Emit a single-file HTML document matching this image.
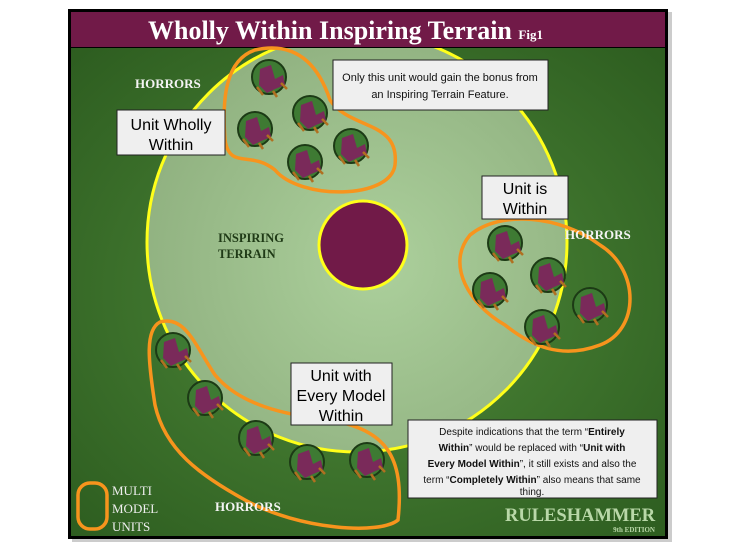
<!DOCTYPE html>
<html><head><style>
body{margin:0;background:#fff;width:749px;height:559px;overflow:hidden}
svg{display:block}
text{font-family:"Liberation Serif",serif}
.s{font-family:"Liberation Sans",sans-serif}
</style></head><body>
<svg width="749" height="559" viewBox="0 0 749 559">
<defs>
<radialGradient id="g" cx="0.5" cy="0.5" r="0.75">
<stop offset="0" stop-color="#4f8a3a"/><stop offset="1" stop-color="#2b5a1e"/>
</radialGradient>
<radialGradient id="lg" cx="0.55" cy="0.55" r="0.6">
<stop offset="0" stop-color="#acd09c"/><stop offset="1" stop-color="#8fb07f"/>
</radialGradient>
<clipPath id="c"><rect x="71" y="48" width="594" height="488"/></clipPath>
<g id="m">
<circle r="17" fill="#3e7a33" stroke="#1c3a15" stroke-width="2"/>
<path d="M-9,-8 L2,-12 L6,2 L14,-2 L16,8 L6,12 L-2,16 L-10,8 Z" fill="#7a2a5a"/>
<path d="M-12,10 L-6,18 M4,14 L8,20 M12,6 L18,12" stroke="#b07020" stroke-width="2.5"/>
</g>
</defs>
<rect x="72" y="12" width="600" height="530" fill="#999" opacity="0.5"/>
<rect x="68" y="9" width="600" height="530" fill="#000"/>
<rect x="71" y="12" width="594" height="35" fill="#711a48"/>
<text x="148" y="39" font-size="26" font-weight="bold" fill="#fff">Wholly Within Inspiring Terrain <tspan font-size="13">Fig1</tspan></text>
<rect x="71" y="48" width="594" height="488" fill="url(#g)"/>
<g clip-path="url(#c)">
<circle cx="357" cy="242" r="210" fill="url(#lg)" stroke="#ffff1a" stroke-width="3"/>
</g>
<circle cx="363" cy="245" r="44" fill="#711a48" stroke="#ffff1a" stroke-width="3"/>
<text x="218" y="242" font-size="12.5" font-weight="bold" fill="#1f3a16">INSPIRING</text>
<text x="218" y="258" font-size="12.5" font-weight="bold" fill="#1f3a16">TERRAIN</text>
<path d="M255,50 C300,40 320,70 330,100 C350,130 400,120 395,165 C390,200 300,200 275,170 C250,150 230,170 225,140 C222,100 225,60 255,50 Z" fill="none" stroke="#f7941d" stroke-width="3.5"/>
<path d="M470,235 C500,210 560,215 600,245 C640,270 640,330 600,345 C560,360 530,345 505,325 C470,305 445,265 470,235 Z" fill="none" stroke="#f7941d" stroke-width="3.5"/>
<path d="M160,322 C185,315 195,345 215,375 C240,405 285,415 330,420 C385,430 405,455 398,520 C380,535 300,530 245,500 C200,475 165,450 155,405 C148,360 145,330 160,322 Z" fill="none" stroke="#f7941d" stroke-width="3.5"/>
<use href="#m" x="269" y="77"/><use href="#m" x="255" y="129"/><use href="#m" x="310" y="113"/><use href="#m" x="351" y="146"/><use href="#m" x="305" y="162"/>
<use href="#m" x="505" y="243"/><use href="#m" x="490" y="290"/><use href="#m" x="548" y="275"/><use href="#m" x="590" y="305"/><use href="#m" x="542" y="327"/>
<use href="#m" x="173" y="350"/><use href="#m" x="205" y="398"/><use href="#m" x="256" y="438"/><use href="#m" x="307" y="462"/><use href="#m" x="367" y="460"/>
<rect x="333" y="60" width="215" height="50" fill="#efefef" stroke="#222"/>
<text class="s" x="440" y="81" text-anchor="middle" font-size="11" fill="#111">Only this unit would gain the bonus from</text>
<text class="s" x="440" y="98" text-anchor="middle" font-size="11" fill="#111">an Inspiring Terrain Feature.</text>
<rect x="117" y="110" width="108" height="45" fill="#efefef" stroke="#222"/>
<text class="s" x="171" y="130" text-anchor="middle" font-size="16" fill="#000">Unit Wholly</text>
<text class="s" x="171" y="150" text-anchor="middle" font-size="16" fill="#000">Within</text>
<rect x="482" y="176" width="86" height="43" fill="#efefef" stroke="#222"/>
<text class="s" x="525" y="194" text-anchor="middle" font-size="16" fill="#000">Unit is</text>
<text class="s" x="525" y="214" text-anchor="middle" font-size="16" fill="#000">Within</text>
<rect x="291" y="363" width="101" height="62" fill="#efefef" stroke="#222"/>
<text class="s" x="341" y="381" text-anchor="middle" font-size="16" fill="#000">Unit with</text>
<text class="s" x="341" y="401" text-anchor="middle" font-size="16" fill="#000">Every Model</text>
<text class="s" x="341" y="421" text-anchor="middle" font-size="16" fill="#000">Within</text>
<rect x="408" y="420" width="249" height="78" fill="#efefef" stroke="#222"/>
<g font-size="10" fill="#111" text-anchor="middle">
<text class="s" x="532" y="435">Despite indications that the term “<tspan font-weight="bold">Entirely</tspan></text>
<text class="s" x="532" y="451"><tspan font-weight="bold">Within</tspan>” would be replaced with “<tspan font-weight="bold">Unit with</tspan></text>
<text class="s" x="532" y="467"><tspan font-weight="bold">Every Model Within</tspan>”, it still exists and also the</text>
<text class="s" x="532" y="483">term “<tspan font-weight="bold">Completely Within</tspan>” also means that same</text>
<text class="s" x="532" y="495">thing.</text>
</g>
<g font-size="13" font-weight="bold" fill="#f4f4f4">
<text x="135" y="88">HORRORS</text>
<text x="565" y="239">HORRORS</text>
<text x="215" y="511">HORRORS</text>
</g>
<rect x="78" y="483" width="29" height="46" rx="12" fill="none" stroke="#f7941d" stroke-width="3.5"/>
<g font-size="13" fill="#eee"><text x="112" y="495">MULTI</text><text x="112" y="513">MODEL</text><text x="112" y="531">UNITS</text></g>
<text x="505" y="521" font-size="18.5" font-weight="bold" fill="#b9d8a8">RULESHAMMER</text>
<text x="655" y="532" text-anchor="end" font-size="7" font-weight="bold" fill="#b9d8a8">9th EDITION</text>
</svg>
</body></html>
